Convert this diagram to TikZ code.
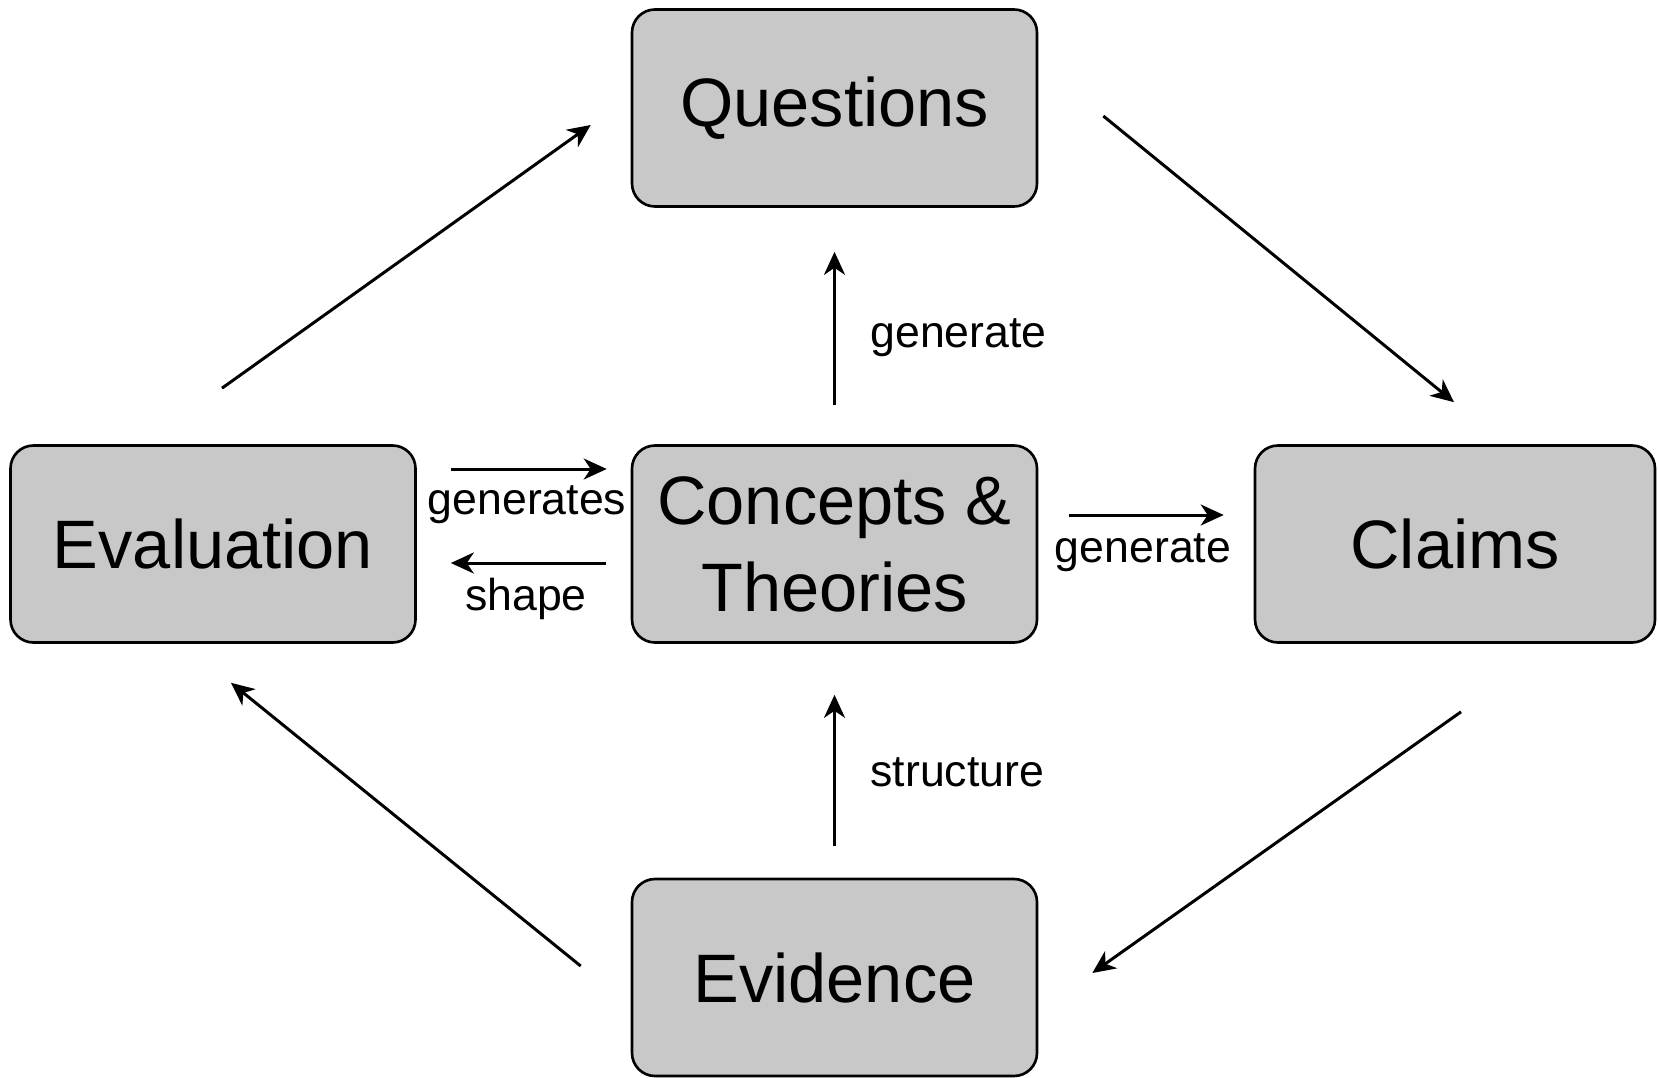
\documentclass[tikz,border=0pt]{standalone}
\usepackage{fontspec}
\setmainfont{Liberation Sans}
\usetikzlibrary{arrows.meta}
\begin{document}
\begin{tikzpicture}[>={Stealth[length=0.23cm,width=0.21cm,inset=0.07cm]},line width=0.85pt,
  stage/.style={draw,line width=0.75pt,fill={rgb,255:red,200;green,200;blue,200},rounded corners=0.23cm,
    minimum width=4.05cm,minimum height=1.97cm,align=center,inner sep=0pt,
    font=\fontsize{19.5}{24.7}\selectfont},
  verb/.style={font=\fontsize{12.7}{15}\selectfont,inner sep=0pt}]
\useasboundingbox (0,0) rectangle (16.58,-10.77);
\node[stage] (quest) at (8.345,-1.08) {Questions};
\node[stage] (concept) at (8.345,-5.44) {Concepts \&\\ Theories};
\node[stage] (eval) at (2.13,-5.44) {Evaluation};
\node[stage,minimum width=4.00cm] (claim) at (14.55,-5.44) {Claims};
\node[stage] (evid) at (8.345,-9.775) {Evidence};
% outer cycle
\draw[->] ([shift={(0.09,0.56)}]eval.north) -- ([shift={(-0.40,-0.17)}]quest.west);
\draw[->] ([shift={(0.65,-0.08)}]quest.east) -- ([shift={(-0.01,0.42)}]claim.north);
\draw[->] ([shift={(0.06,-0.68)}]claim.south) -- ([shift={(0.54,0.045)}]evid.east);
\draw[->] ([shift={(-0.50,0.115)}]evid.west) -- ([shift={(0.18,-0.39)}]eval.south);
% inner links
\draw[->,shorten <=0.39cm,shorten >=0.44cm] (concept) -- (quest);
\draw[->,shorten <=0.32cm,shorten >=0.51cm] (evid) -- (concept);
\draw[->,shorten <=0.31cm,shorten >=0.30cm] ([yshift=0.29cm]concept.east) -- ([yshift=0.29cm]claim.west);
\draw[->,shorten <=0.34cm,shorten >=0.24cm] ([yshift=0.75cm]eval.east) -- ([yshift=0.75cm]concept.west);
\draw[->,shorten <=0.25cm,shorten >=0.34cm] ([yshift=-0.19cm]concept.west) -- ([yshift=-0.19cm]eval.east);
\node[verb,anchor=west] (gen1) at (8.69,-3.38) {generate};
\node[verb,anchor=west] (struct) at (8.69,-7.72) {structure};
\node[verb] (gen2) at (11.43,-5.53) {generate};
\node[verb] (gens) at (5.27,-5.05) {generates};
\node[verb] (shp) at (5.26,-5.99) {shape};
\end{tikzpicture}
\end{document}
